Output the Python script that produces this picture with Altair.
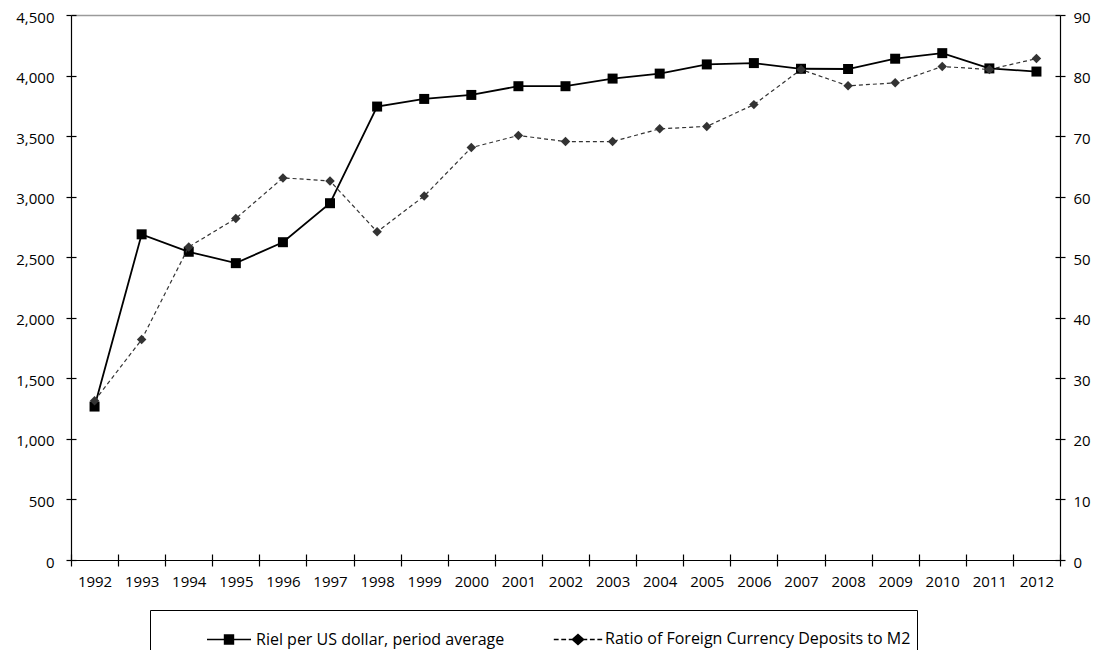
import altair as alt
import pandas as pd

years = ["1992", "1993", "1994", "1995", "1996", "1997", "1998", "1999", "2000", "2001",
         "2002", "2003", "2004", "2005", "2006", "2007", "2008", "2009", "2010", "2011", "2012"]
riel = [1267, 2689, 2545, 2451, 2624, 2946, 3744, 3807, 3840, 3912,
        3912, 3975, 4016, 4092, 4103, 4056, 4054, 4139, 4185, 4059, 4033]
ratio = [26.3, 36.4, 51.7, 56.4, 63.1, 62.6, 54.2, 60.1, 68.1, 70.1,
         69.1, 69.1, 71.2, 71.6, 75.2, 81.0, 78.3, 78.8, 81.5, 81.0, 82.8]
series_names = ["Riel per US dollar, period average",
                "Ratio of Foreign Currency Deposits to M2"]
left_ticks = [0, 500, 1000, 1500, 2000, 2500, 3000, 3500, 4000, 4500]
right_ticks = [0, 10, 20, 30, 40, 50, 60, 70, 80, 90]

FONT = "Open Sans"
FS = 15

df = pd.DataFrame({"year": years, "riel": riel, "ratio": ratio})
legend_df = pd.DataFrame({"series": series_names, "year": [years[0], years[0]], "v": [-1, -1]})

# legend symbol paths (unit box -1..1)
path_riel = "M-1,0H1M-0.2,-0.2H0.2V0.2H-0.2Z"
path_ratio = ("M-1.1,0H-0.88M-0.76,0H-0.54M-0.42,0H-0.25"
              "M0.25,0H0.42M0.54,0H0.76M0.88,0H1.1"
              "M0,-0.22L0.25,0L0,0.22L-0.25,0Z")

xscale = alt.Scale(type="band", paddingInner=0, paddingOuter=0)
lscale = alt.Scale(domain=[0, 4500], nice=False)
rscale = alt.Scale(domain=[0, 90], nice=False)


def X(axis=None):
    return alt.X("year:O", scale=xscale, axis=axis, sort=years)


x_main = alt.Axis(title=None, orient="bottom", tickBand="extent", labelAngle=0,
                  labelFont=FONT, labelFontSize=FS, labelColor="black", labelPadding=8,
                  domainColor="black", domainWidth=1.2, tickColor="black", tickWidth=1.2,
                  tickSize=6, grid=False)
x_inner = alt.Axis(title=None, orient="bottom", tickBand="extent", labels=False,
                   domain=False, offset=-6, tickSize=6, tickColor="black", tickWidth=1.2,
                   grid=False)
x_top = alt.Axis(title=None, orient="top", labels=False, ticks=False,
                 domainColor="#9a9a9a", domainWidth=1.5, grid=False)

yl_main = alt.Axis(title=None, orient="left", values=left_ticks, format=",.0f",
                   labelFont=FONT, labelFontSize=FS, labelColor="black", labelPadding=12,
                   labelOffset=2,
                   domainColor="black", domainWidth=1.2, tickColor="black", tickWidth=1.2,
                   tickSize=5, grid=False)
yl_inner = alt.Axis(title=None, orient="left", values=left_ticks, labels=False,
                    domain=False, offset=-5, tickSize=5, tickColor="black", tickWidth=1.2,
                    grid=False)
yr_main = alt.Axis(title=None, orient="right", values=right_ticks, format="d",
                   labelFont=FONT, labelFontSize=FS, labelColor="black", labelPadding=8,
                   labelOffset=2,
                   domainColor="black", domainWidth=1.2, tickColor="black", tickWidth=1.2,
                   tickSize=5, grid=False)
yr_inner = alt.Axis(title=None, orient="right", values=right_ticks, labels=False,
                    domain=False, offset=-5, tickSize=5, tickColor="black", tickWidth=1.2,
                    grid=False)

riel_line = alt.Chart(df).mark_line(color="black", strokeWidth=1.8).encode(
    x=X(x_main), y=alt.Y("riel:Q", scale=lscale, axis=yl_main))
riel_pts = alt.Chart(df).mark_point(shape="square", filled=True, color="black",
                                    size=100, opacity=1).encode(
    x=X(), y=alt.Y("riel:Q", scale=lscale, axis=None))
ratio_line = alt.Chart(df).mark_line(color="#333333", strokeWidth=1.2,
                                     strokeDash=[4, 3]).encode(
    x=X(), y=alt.Y("ratio:Q", scale=rscale, axis=yr_main))
ratio_pts = alt.Chart(df).mark_point(shape="diamond", filled=True, color="#333333",
                                     size=90, opacity=1).encode(
    x=X(), y=alt.Y("ratio:Q", scale=rscale, axis=None))
inner_l = alt.Chart(df).mark_line(strokeOpacity=0).encode(
    x=X(x_inner), y=alt.Y("riel:Q", scale=lscale, axis=yl_inner))
inner_r = alt.Chart(df).mark_line(strokeOpacity=0).encode(
    x=X(x_top), y=alt.Y("ratio:Q", scale=rscale, axis=yr_inner))

label_pad = "\u00a0" * 13
legend_layer = alt.Chart(legend_df).transform_filter("datum.v >= 0").mark_point(
    filled=False, color="black", fill="black", stroke="black", strokeWidth=1.6,
    opacity=1).encode(
    x=X(),
    y=alt.Y("v:Q", scale=lscale, axis=None),
    shape=alt.Shape("series:N",
                    scale=alt.Scale(domain=series_names, range=[path_riel, path_ratio]),
                    legend=alt.Legend(orient="none", legendX=79, legendY=595,
                                      direction="horizontal", title=None, padding=6,
                                      strokeColor="black", symbolSize=1936,
                                      symbolStrokeWidth=1.6, symbolOpacity=1,
                                      symbolOffset=50, labelOffset=4,
                                      labelExpr="substring(datum.label, 0, 5) == 'Ratio' ? datum.label + '" + label_pad + "' : datum.label",
                                      labelFont=FONT, labelFontSize=16, labelColor="black",
                                      labelLimit=700, columnPadding=0)))

chart = alt.layer(
    inner_l, inner_r, riel_line, riel_pts, ratio_line, ratio_pts, legend_layer
).resolve_scale(y="independent").resolve_axis(x="independent", y="independent").properties(
    width=989, height=545,
    autosize=alt.AutoSizeParams(type="none"),
    padding={"left": 63, "top": 7, "right": 31, "bottom": 90},
    background="white",
).configure_view(stroke=None)

chart.save("out.html", embed_options={"renderer": "svg", "actions": False})
